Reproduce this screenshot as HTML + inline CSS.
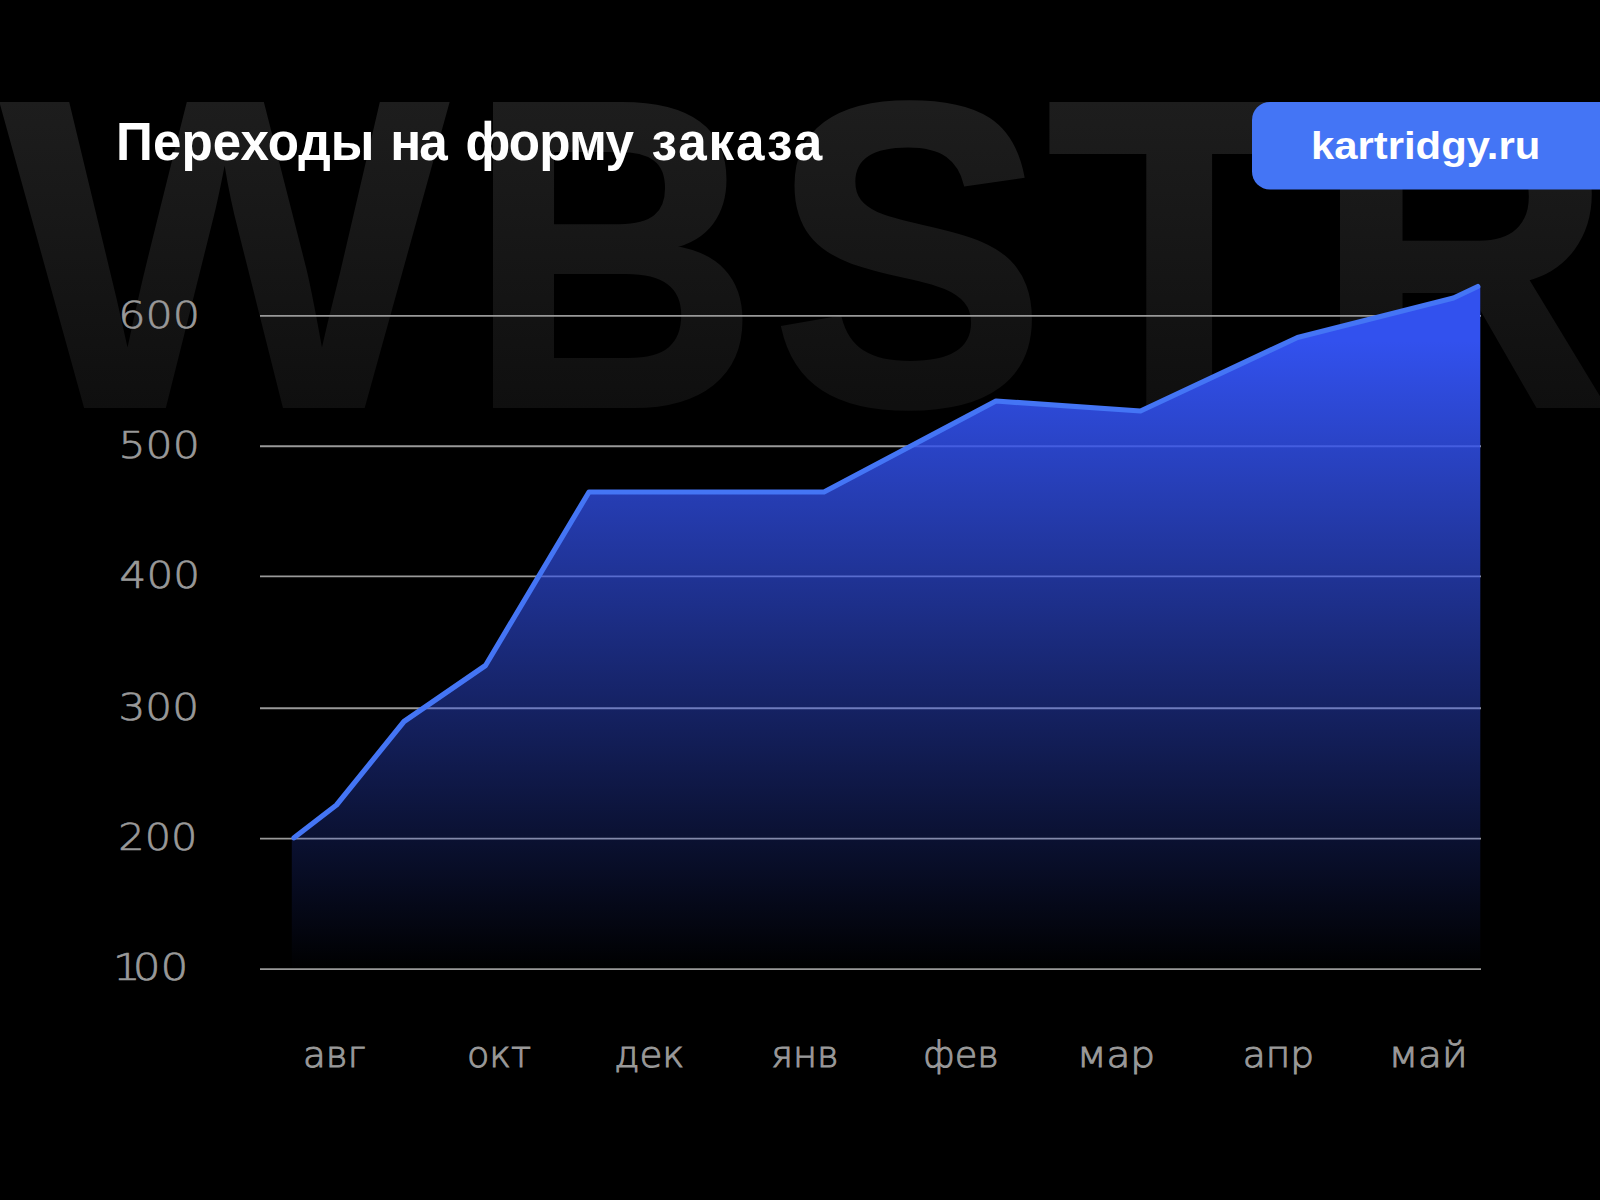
<!DOCTYPE html>
<html lang="ru"><head><meta charset="utf-8"><title>Переходы на форму заказа</title>
<style>html,body{margin:0;padding:0;background:#000;width:1600px;height:1200px;overflow:hidden}svg{display:block}</style>
</head><body>
<svg width="1600" height="1200" viewBox="0 0 1600 1200">
<defs>
<linearGradient id="wgW" gradientUnits="userSpaceOnUse" x1="0" y1="-306.2" x2="0" y2="0.0"><stop offset="0" stop-color="#1d1d1d"/><stop offset="1" stop-color="#0f0f0f"/></linearGradient>
<linearGradient id="wgB" gradientUnits="userSpaceOnUse" x1="0" y1="-304.9" x2="0" y2="1.5"><stop offset="0" stop-color="#1d1d1d"/><stop offset="1" stop-color="#0f0f0f"/></linearGradient>
<linearGradient id="wgS" gradientUnits="userSpaceOnUse" x1="0" y1="-304.9" x2="0" y2="1.5"><stop offset="0" stop-color="#1d1d1d"/><stop offset="1" stop-color="#0f0f0f"/></linearGradient>
<linearGradient id="wgT" gradientUnits="userSpaceOnUse" x1="0" y1="-304.9" x2="0" y2="1.5"><stop offset="0" stop-color="#1d1d1d"/><stop offset="1" stop-color="#0f0f0f"/></linearGradient>
<linearGradient id="wgR" gradientUnits="userSpaceOnUse" x1="0" y1="-304.9" x2="0" y2="1.5"><stop offset="0" stop-color="#1d1d1d"/><stop offset="1" stop-color="#0f0f0f"/></linearGradient>
<linearGradient id="ag" gradientUnits="userSpaceOnUse" x1="0" y1="286" x2="0" y2="970"><stop offset="0" stop-color="#3251ee" stop-opacity="1"/><stop offset="0.08" stop-color="#3251ee" stop-opacity="1"/><stop offset="1" stop-color="#3251ee" stop-opacity="0"/></linearGradient>
</defs>
<rect width="1600" height="1200" fill="#000"/>
<g font-weight="700"><text transform="translate(-1.07 408.00) scale(1.0742 0.9995)" font-family='"Liberation Sans", sans-serif' font-size="445" fill="url(#wgW)" >W</text>
<text transform="translate(467.32 406.50) scale(0.9173 0.9987)" font-family='"Liberation Sans", sans-serif' font-size="441" fill="url(#wgB)" stroke="url(#wgB)" stroke-width="3" stroke-linejoin="miter">B</text>
<text transform="translate(770.68 405.12) scale(0.9382 0.9857)" font-family='"Liberation Sans", sans-serif' font-size="441" fill="url(#wgS)" stroke="url(#wgS)" stroke-width="3" stroke-linejoin="miter">S</text>
<text transform="translate(1046.03 406.50) scale(0.9886 0.9987)" font-family='"Liberation Sans", sans-serif' font-size="441" fill="url(#wgT)" stroke="url(#wgT)" stroke-width="3" stroke-linejoin="miter">T</text>
<text transform="translate(1313.68 406.50) scale(0.9400 0.9987)" font-family='"Liberation Sans", sans-serif' font-size="441" fill="url(#wgR)" stroke="url(#wgR)" stroke-width="3" stroke-linejoin="miter">R</text></g>
<path d="M291.8,969 L291.8,838 L294,837.8 L336.5,805 L404,721.5 L485.5,665.5 L589,492 L824,492 L996,401 L1140.5,411 L1297.5,337.5 L1453.5,298 L1477.8,286.5 L1480.3,286.5 L1480.3,969 Z" fill="#000"/>
<g stroke="#999" stroke-width="1.9">
<line x1="260" x2="1481" y1="315.9" y2="315.9"/>
<line x1="260" x2="1481" y1="446.2" y2="446.2"/>
<line x1="260" x2="1481" y1="576.4" y2="576.4"/>
<line x1="260" x2="1481" y1="708.3" y2="708.3"/>
<line x1="260" x2="1481" y1="838.6" y2="838.6"/>
<line x1="260" x2="1481" y1="969.1" y2="969.1"/>
</g>
<path d="M291.8,969 L291.8,838 L294,837.8 L336.5,805 L404,721.5 L485.5,665.5 L589,492 L824,492 L996,401 L1140.5,411 L1297.5,337.5 L1453.5,298 L1477.8,286.5 L1480.3,286.5 L1480.3,969 Z" fill="url(#ag)"/>
<polyline points="294,837.8 336.5,805 404,721.5 485.5,665.5 589,492 824,492 996,401 1140.5,411 1297.5,337.5 1453.5,298 1477.8,286.5" fill="none" stroke="#4475f5" stroke-width="5.2" stroke-linejoin="round" stroke-linecap="round"/>
<rect x="1252" y="101.9" width="380" height="87.7" rx="18" fill="#4475f5"/>
<text transform="translate(1311.00 158.75) scale(1.1009 1)" font-family='"Liberation Sans", sans-serif' font-weight="700" font-size="38" fill="#fff" >kartridgy.ru</text>
<text transform="translate(0 159.5) scale(0.9664 1)" font-family='"Liberation Sans", sans-serif' font-weight="700" font-size="53" fill="#fff"><tspan x="120.16" letter-spacing="0.000">Переходы</tspan> <tspan x="403.96" letter-spacing="-2.121">на</tspan> <tspan x="481.76" letter-spacing="-0.866">форму</tspan> <tspan x="674.22" letter-spacing="1.929">заказа</tspan></text>
<text transform="translate(118.28 327.5) scale(1.1431 1)" font-family='"DejaVu Sans Light", "DejaVu Sans", "Liberation Sans", sans-serif' font-weight="200" font-size="37.5" fill="#999" stroke="#999" stroke-width="0.7">600</text>
<text transform="translate(118.53 457.9) scale(1.1351 1)" font-family='"DejaVu Sans Light", "DejaVu Sans", "Liberation Sans", sans-serif' font-weight="200" font-size="37.5" fill="#999" stroke="#999" stroke-width="0.7">500</text>
<text transform="translate(119.61 588.0) scale(1.1236 1)" font-family='"DejaVu Sans Light", "DejaVu Sans", "Liberation Sans", sans-serif' font-weight="200" font-size="37.5" fill="#999" stroke="#999" stroke-width="0.7">400</text>
<text transform="translate(118.49 720.0) scale(1.1255 1)" font-family='"DejaVu Sans Light", "DejaVu Sans", "Liberation Sans", sans-serif' font-weight="200" font-size="37.5" fill="#999" stroke="#999" stroke-width="0.7">300</text>
<text transform="translate(118.31 850.1) scale(1.1045 1)" font-family='"DejaVu Sans Light", "DejaVu Sans", "Liberation Sans", sans-serif' font-weight="200" font-size="37.5" fill="#999" stroke="#999" stroke-width="0.7">200</text>
<text transform="translate(0 980.1) scale(1.1687 1)" font-family='"DejaVu Sans Light", "DejaVu Sans", "Liberation Sans", sans-serif' font-weight="200" font-size="37.5" fill="#999" stroke="#999" stroke-width="0.7"><tspan x="96.58">1</tspan><tspan x="113.59">00</tspan></text>
<text transform="translate(303.02 1067.3) scale(1.0323 1)" font-family='"DejaVu Sans Light", "DejaVu Sans", "Liberation Sans", sans-serif' font-weight="200" font-size="36" fill="#999" stroke="#999" stroke-width="1">авг</text>
<text transform="translate(466.96 1067.3) scale(1.0159 1)" font-family='"DejaVu Sans Light", "DejaVu Sans", "Liberation Sans", sans-serif' font-weight="200" font-size="36" fill="#999" stroke="#999" stroke-width="1">окт</text>
<text transform="translate(614.28 1067.3) scale(1.0319 1)" font-family='"DejaVu Sans Light", "DejaVu Sans", "Liberation Sans", sans-serif' font-weight="200" font-size="36" fill="#999" stroke="#999" stroke-width="1">дек</text>
<text transform="translate(771.21 1067.3) scale(1.0235 1)" font-family='"DejaVu Sans Light", "DejaVu Sans", "Liberation Sans", sans-serif' font-weight="200" font-size="36" fill="#999" stroke="#999" stroke-width="1">янв</text>
<text transform="translate(923.31 1067.3) scale(1.0195 1)" font-family='"DejaVu Sans Light", "DejaVu Sans", "Liberation Sans", sans-serif' font-weight="200" font-size="36" fill="#999" stroke="#999" stroke-width="1">фев</text>
<text transform="translate(1076.92 1067.3) scale(1.0851 1)" font-family='"DejaVu Sans Light", "DejaVu Sans", "Liberation Sans", sans-serif' font-weight="200" font-size="36" fill="#999" stroke="#999" stroke-width="1">мар</text>
<text transform="translate(1242.79 1067.3) scale(1.0425 1)" font-family='"DejaVu Sans Light", "DejaVu Sans", "Liberation Sans", sans-serif' font-weight="200" font-size="36" fill="#999" stroke="#999" stroke-width="1">апр</text>
<text transform="translate(1388.63 1067.3) scale(1.0826 1)" font-family='"DejaVu Sans Light", "DejaVu Sans", "Liberation Sans", sans-serif' font-weight="200" font-size="36" fill="#999" stroke="#999" stroke-width="1">май</text>
</svg>
</body></html>
